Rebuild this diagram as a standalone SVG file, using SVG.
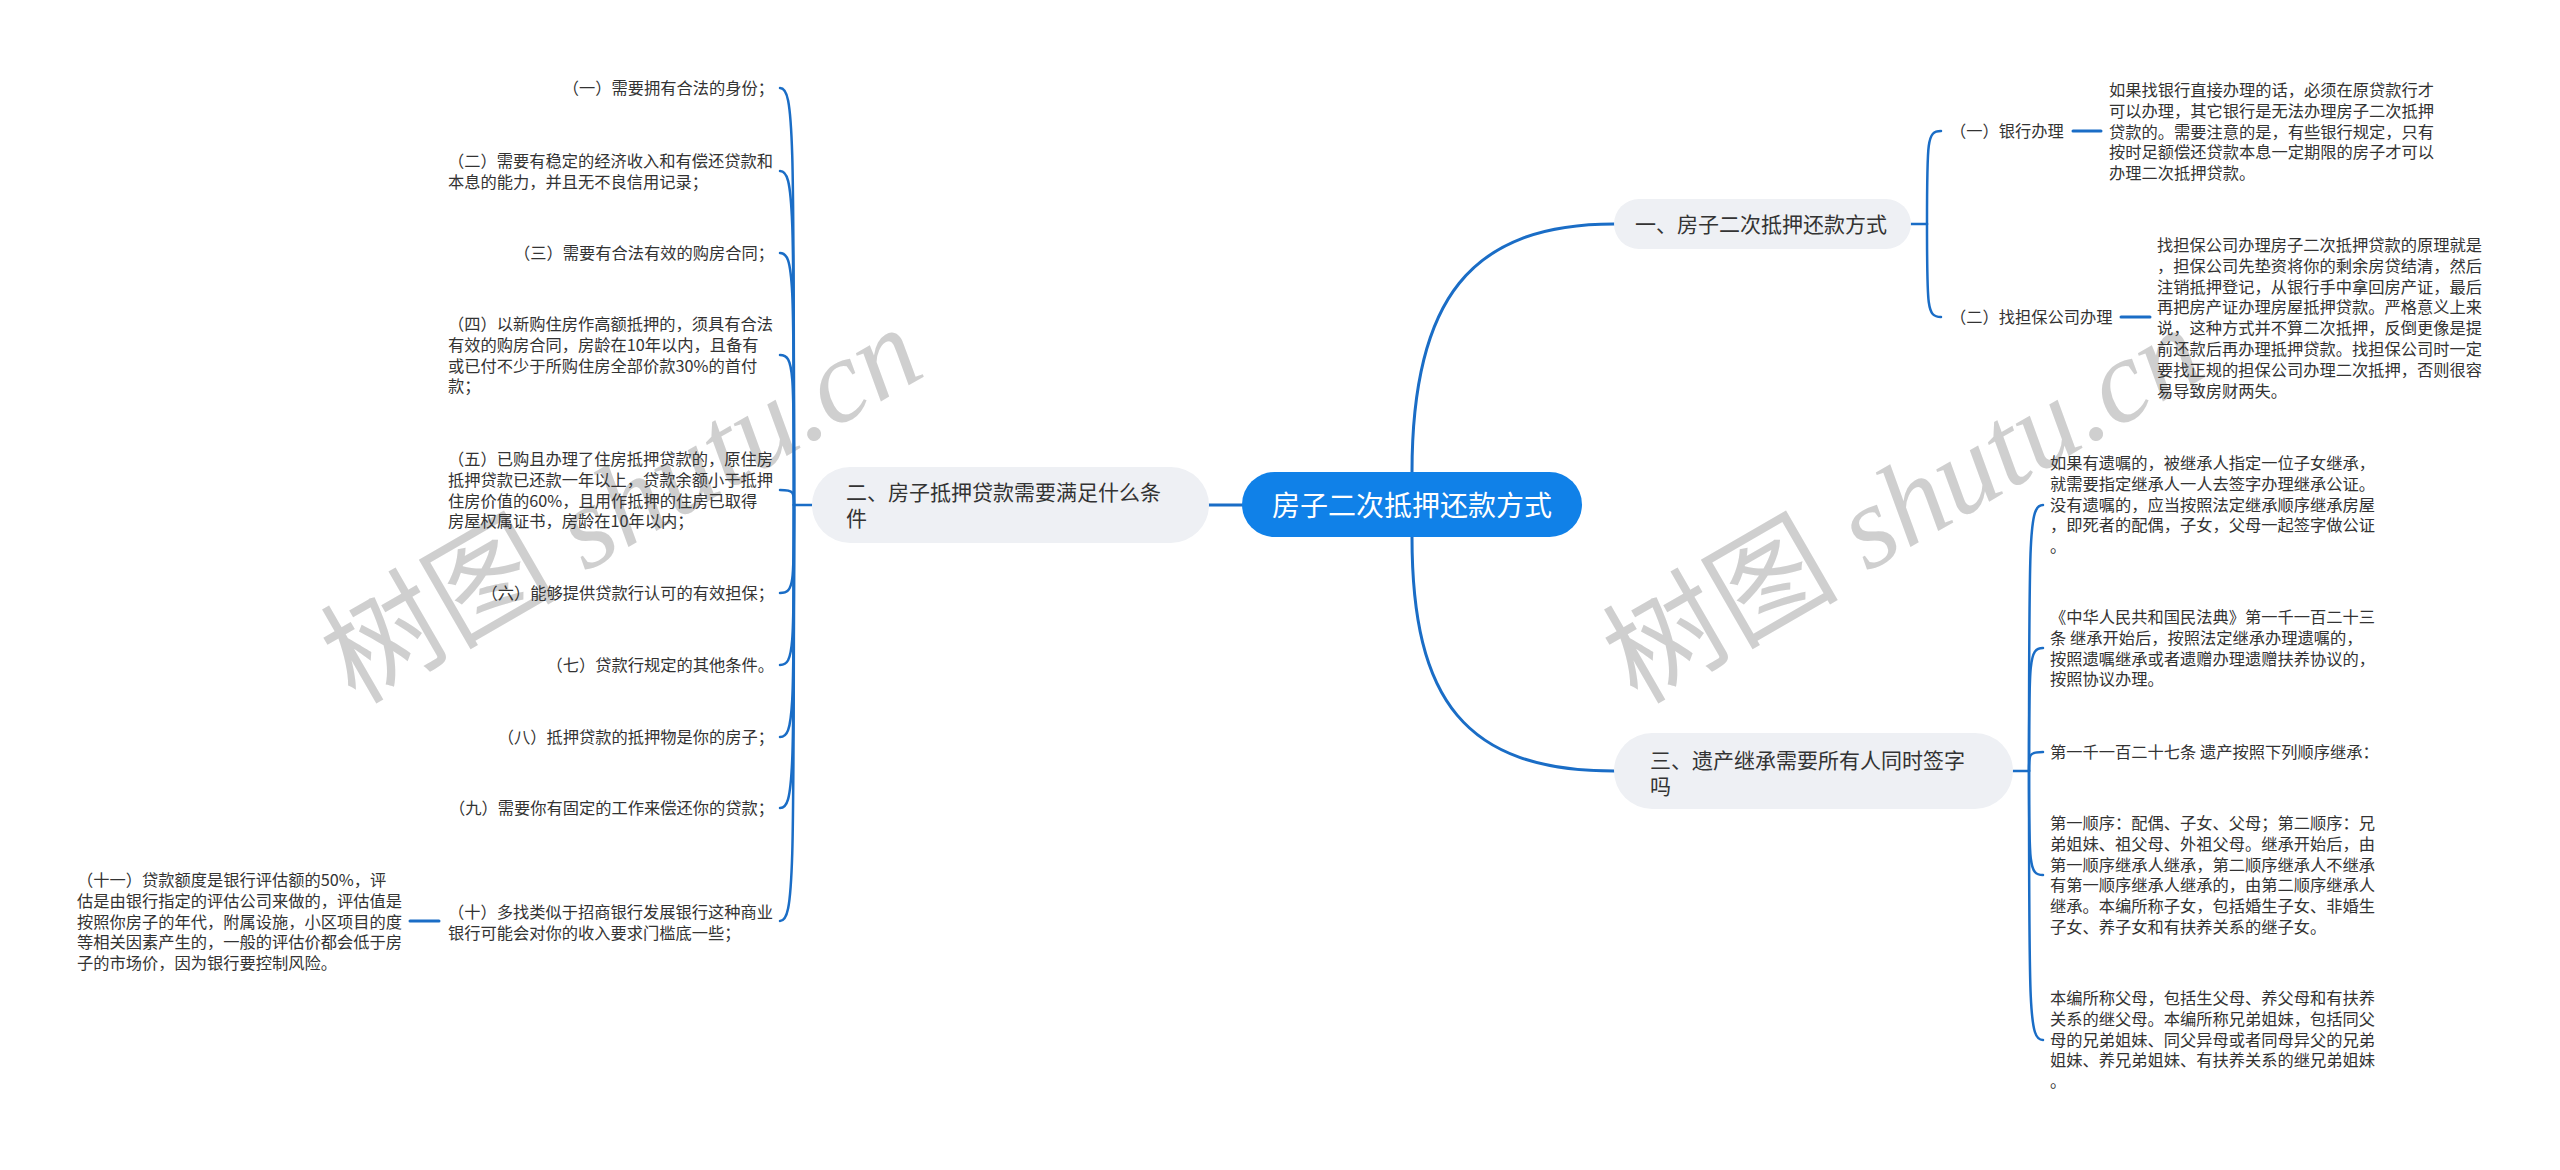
<svg xmlns="http://www.w3.org/2000/svg" width="2560" height="1170" viewBox="0 0 2560 1170">
<style>
.wm{font-family:"Liberation Serif","Noto Sans CJK SC",serif;font-size:118px;fill:#c4c4c4;opacity:.8}
.wm .it{font-style:italic}
.t{font-family:"Noto Sans CJK SC","Noto Sans",sans-serif;font-size:16.25px;fill:#333}
.n{font-family:"Noto Sans CJK SC","Noto Sans",sans-serif;font-size:21px;fill:#333}
.r{font-family:"Noto Sans CJK SC","Noto Sans",sans-serif;font-size:28px;fill:#fff}
.nb{fill:#eef0f4}
.c{fill:none;stroke:#1a6dc6;stroke-width:2.5;stroke-linecap:round}
.c3{stroke-width:3}
</style>
<rect width="2560" height="1170" fill="#fff"/>
<g id="watermarks">
<text class="wm" x="355" y="705" transform="rotate(-30 355 705)">树图 <tspan class="it">shutu.cn</tspan></text>
<text class="wm" x="1637" y="705" transform="rotate(-30 1637 705)">树图 <tspan class="it">shutu.cn</tspan></text>
</g>
<g id="connectors">
<path class="c c3" d="M1242,505 L1209,505"/>
<path class="c c3" d="M1412,472 C1412,300 1470,224 1614,224"/>
<path class="c c3" d="M1412,537 C1412,700 1465,771 1614,771"/>
<path class="c" d="M812,505 L794,505"/>
<path class="c" d="M794,505 C794,130 794,88 780,88"/>
<path class="c" d="M794,505 C794,204 794,171 780,171"/>
<path class="c" d="M794,505 C794,278 794,253 780,253"/>
<path class="c" d="M794,505 C794,370 794,355 780,355"/>
<path class="c" d="M794,505 C794,492 794,490 780,490"/>
<path class="c" d="M794,505 C794,584 794,593 780,593"/>
<path class="c" d="M794,505 C794,649 794,665 780,665"/>
<path class="c" d="M794,505 C794,714 794,737 780,737"/>
<path class="c" d="M794,505 C794,778 794,808 780,808"/>
<path class="c" d="M794,505 C794,879 794,921 780,921"/>
<path class="c c3" d="M439,921 L410,921"/>
<path class="c" d="M1911,224 L1927,224"/>
<path class="c" d="M1927,224 C1927,140 1927,131 1941,131"/>
<path class="c" d="M1927,224 C1927,308 1927,317 1941,317"/>
<path class="c c3" d="M2073,131 L2101,131"/>
<path class="c c3" d="M2121,317 L2150,317"/>
<path class="c" d="M2013,771 L2029,771"/>
<path class="c" d="M2029,771 C2029,532 2029,505 2043,505"/>
<path class="c" d="M2029,771 C2029,660 2029,648 2043,648"/>
<path class="c" d="M2029,771 C2029,754 2029,752 2043,752"/>
<path class="c" d="M2029,771 C2029,865 2029,875 2043,875"/>
<path class="c" d="M2029,771 C2029,1013 2029,1040 2043,1040"/>
</g>
<g id="root">
<rect x="1242" y="472" width="340" height="65" rx="32.5" fill="#1081e8"/>
<text class="r" x="1412" y="516" text-anchor="middle">房子二次抵押还款方式</text>
</g>
<g id="n1">
<rect class="nb" x="1614" y="199" width="297" height="50" rx="25"/>
<text class="n" x="1635" y="232">一、房子二次抵押还款方式</text>
</g>
<g id="n2">
<rect class="nb" x="812" y="467" width="397" height="76" rx="38"/>
<text class="n" x="846" y="500">二、房子抵押贷款需要满足什么条<tspan x="846" dy="26">件</tspan></text>
</g>
<g id="n3">
<rect class="nb" x="1614" y="733" width="399" height="76" rx="38"/>
<text class="n" x="1650" y="768">三、遗产继承需要所有人同时签字<tspan x="1650" dy="26">吗</tspan></text>
</g>
<g id="n1-1"><text class="t" x="1950" y="137">（一）银行办理</text></g>
<g id="n1-1-1"><text class="t" x="2109" y="96">如果找银行直接办理的话，必须在原贷款行才<tspan x="2109" dy="20.8">可以办理，其它银行是无法办理房子二次抵押</tspan><tspan x="2109" dy="20.8">贷款的。需要注意的是，有些银行规定，只有</tspan><tspan x="2109" dy="20.8">按时足额偿还贷款本息一定期限的房子才可以</tspan><tspan x="2109" dy="20.8">办理二次抵押贷款。</tspan></text></g>
<g id="n1-2"><text class="t" x="1950" y="323">（二）找担保公司办理</text></g>
<g id="n1-2-1"><text class="t" x="2157" y="251">找担保公司办理房子二次抵押贷款的原理就是<tspan x="2157" dy="20.8">，担保公司先垫资将你的剩余房贷结清，然后</tspan><tspan x="2157" dy="20.8">注销抵押登记，从银行手中拿回房产证，最后</tspan><tspan x="2157" dy="20.8">再把房产证办理房屋抵押贷款。严格意义上来</tspan><tspan x="2157" dy="20.8">说，这种方式并不算二次抵押，反倒更像是提</tspan><tspan x="2157" dy="20.8">前还款后再办理抵押贷款。找担保公司时一定</tspan><tspan x="2157" dy="20.8">要找正规的担保公司办理二次抵押，否则很容</tspan><tspan x="2157" dy="20.8">易导致房财两失。</tspan></text></g>
<g id="n2-1"><text class="t" x="774" y="94" text-anchor="end">（一）需要拥有合法的身份；</text></g>
<g id="n2-2"><text class="t" x="448" y="167">（二）需要有稳定的经济收入和有偿还贷款和<tspan x="448" dy="20.8">本息的能力，并且无不良信用记录；</tspan></text></g>
<g id="n2-3"><text class="t" x="774" y="259" text-anchor="end">（三）需要有合法有效的购房合同；</text></g>
<g id="n2-4"><text class="t" x="448" y="330">（四）以新购住房作高额抵押的，须具有合法<tspan x="448" dy="20.8">有效的购房合同，房龄在10年以内，且备有</tspan><tspan x="448" dy="20.8">或已付不少于所购住房全部价款30%的首付</tspan><tspan x="448" dy="20.8">款；</tspan></text></g>
<g id="n2-5"><text class="t" x="448" y="465">（五）已购且办理了住房抵押贷款的，原住房<tspan x="448" dy="20.8">抵押贷款已还款一年以上，贷款余额小于抵押</tspan><tspan x="448" dy="20.8">住房价值的60%，且用作抵押的住房已取得</tspan><tspan x="448" dy="20.8">房屋权属证书，房龄在10年以内；</tspan></text></g>
<g id="n2-6"><text class="t" x="774" y="599" text-anchor="end">（六）能够提供贷款行认可的有效担保；</text></g>
<g id="n2-7"><text class="t" x="774" y="671" text-anchor="end">（七）贷款行规定的其他条件。</text></g>
<g id="n2-8"><text class="t" x="774" y="743" text-anchor="end">（八）抵押贷款的抵押物是你的房子；</text></g>
<g id="n2-9"><text class="t" x="774" y="814" text-anchor="end">（九）需要你有固定的工作来偿还你的贷款；</text></g>
<g id="n2-10"><text class="t" x="448" y="918">（十）多找类似于招商银行发展银行这种商业<tspan x="448" dy="20.8">银行可能会对你的收入要求门槛底一些；</tspan></text></g>
<g id="n2-10-1"><text class="t" x="77" y="886">（十一）贷款额度是银行评估额的50%，评<tspan x="77" dy="20.8">估是由银行指定的评估公司来做的，评估值是</tspan><tspan x="77" dy="20.8">按照你房子的年代，附属设施，小区项目的度</tspan><tspan x="77" dy="20.8">等相关因素产生的，一般的评估价都会低于房</tspan><tspan x="77" dy="20.8">子的市场价，因为银行要控制风险。</tspan></text></g>
<g id="n3-1"><text class="t" x="2050" y="469">如果有遗嘱的，被继承人指定一位子女继承，<tspan x="2050" dy="20.8">就需要指定继承人一人去签字办理继承公证。</tspan><tspan x="2050" dy="20.8">没有遗嘱的，应当按照法定继承顺序继承房屋</tspan><tspan x="2050" dy="20.8">，即死者的配偶，子女，父母一起签字做公证</tspan><tspan x="2050" dy="20.8">。</tspan></text></g>
<g id="n3-2"><text class="t" x="2050" y="623">《中华人民共和国民法典》第一千一百二十三<tspan x="2050" dy="20.8">条 继承开始后，按照法定继承办理遗嘱的，</tspan><tspan x="2050" dy="20.8">按照遗嘱继承或者遗赠办理遗赠扶养协议的，</tspan><tspan x="2050" dy="20.8">按照协议办理。</tspan></text></g>
<g id="n3-3"><text class="t" x="2050" y="758">第一千一百二十七条 遗产按照下列顺序继承：</text></g>
<g id="n3-4"><text class="t" x="2050" y="829">第一顺序：配偶、子女、父母；第二顺序：兄<tspan x="2050" dy="20.8">弟姐妹、祖父母、外祖父母。继承开始后，由</tspan><tspan x="2050" dy="20.8">第一顺序继承人继承，第二顺序继承人不继承</tspan><tspan x="2050" dy="20.8">有第一顺序继承人继承的，由第二顺序继承人</tspan><tspan x="2050" dy="20.8">继承。本编所称子女，包括婚生子女、非婚生</tspan><tspan x="2050" dy="20.8">子女、养子女和有扶养关系的继子女。</tspan></text></g>
<g id="n3-5"><text class="t" x="2050" y="1004">本编所称父母，包括生父母、养父母和有扶养<tspan x="2050" dy="20.8">关系的继父母。本编所称兄弟姐妹，包括同父</tspan><tspan x="2050" dy="20.8">母的兄弟姐妹、同父异母或者同母异父的兄弟</tspan><tspan x="2050" dy="20.8">姐妹、养兄弟姐妹、有扶养关系的继兄弟姐妹</tspan><tspan x="2050" dy="20.8">。</tspan></text></g>
</svg>
